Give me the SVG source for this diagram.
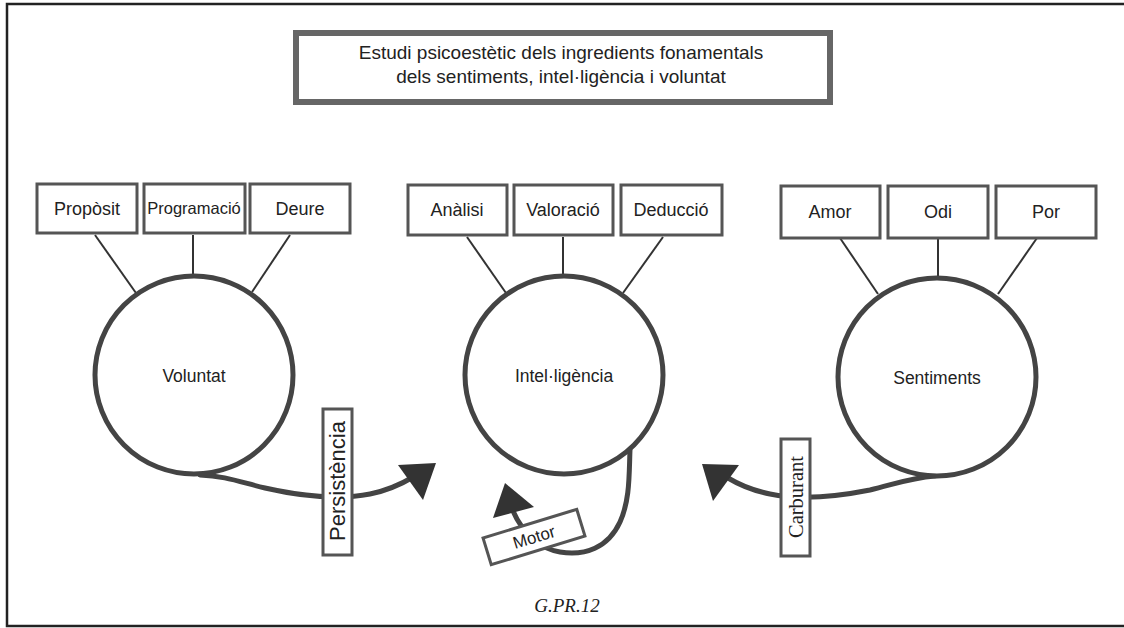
<svg xmlns="http://www.w3.org/2000/svg" width="1124" height="628" viewBox="0 0 1124 628">
<style>
.t{font-family:"Liberation Sans",Arial,sans-serif;fill:#222;text-anchor:middle}
.box{fill:#fff;stroke:#555;stroke-width:3}
.ln{stroke:#333;stroke-width:2;fill:none}
.circ{fill:#fff;stroke:#444;stroke-width:5}
.flow{fill:none;stroke:#444;stroke-width:5;stroke-linecap:round}
.head{fill:#333}
</style>
<rect x="0" y="0" width="1124" height="628" fill="#fff"/>
<rect x="7" y="4" width="1130" height="622" fill="none" stroke="#222" stroke-width="2.5"/>
<g id="title">
<rect x="296" y="33" width="534" height="69" fill="#fff" stroke="#666" stroke-width="6"/>
<text class="t" x="561" y="59" font-size="19">Estudi psicoestètic dels ingredients fonamentals</text>
<text class="t" x="561" y="83" font-size="19">dels sentiments, intel·ligència i voluntat</text>
</g>
<g id="connectors">
<line class="ln" x1="95" y1="235" x2="136" y2="293"/>
<line class="ln" x1="193" y1="235" x2="193" y2="274"/>
<line class="ln" x1="290" y1="235" x2="252" y2="292"/>
<line class="ln" x1="467" y1="237" x2="506" y2="293"/>
<line class="ln" x1="563" y1="237" x2="563" y2="275"/>
<line class="ln" x1="663" y1="237" x2="623" y2="293"/>
<line class="ln" x1="840" y1="238" x2="878" y2="294"/>
<line class="ln" x1="938" y1="238" x2="938" y2="277"/>
<line class="ln" x1="1037" y1="238" x2="998" y2="294"/>
<path class="flow" d="M 200 475 C 225 476 240 482 265 488 C 300 496 340 500 370 494 C 390 490 405 482 415 476"/>
<polygon class="head" points="398,465 436,463 423,500"/>
<path class="flow" d="M 935 476 C 910 478 895 484 870 490 C 835 497 800 500 770 494 C 750 490 738 484 728 478"/>
<polygon class="head" points="702,464 739,465 713,501"/>
<path class="flow" d="M 630 450 C 629 475 630 500 620 522 C 608 548 585 556 560 552 C 540 549 522 532 513 511"/>
<polygon class="head" points="493,518 505,483 534,507"/>
</g>
<g id="voluntat">
<circle class="circ" cx="194" cy="375" r="99"/>
<text class="t" x="194" y="382" font-size="17.5">Voluntat</text>
</g>
<g id="intelligencia">
<circle class="circ" cx="564" cy="375" r="99"/>
<text class="t" x="564" y="382" font-size="17.5">Intel·ligència</text>
</g>
<g id="sentiments">
<circle class="circ" cx="937" cy="377" r="99"/>
<text class="t" x="937" y="384" font-size="17.5">Sentiments</text>
</g>
<g id="proposit"><rect class="box" x="37" y="184" width="100" height="49"/><text class="t" x="87" y="215" font-size="18">Propòsit</text></g>
<g id="programacio"><rect class="box" x="144" y="184" width="101" height="49"/><text class="t" x="194" y="214" font-size="16.5">Programació</text></g>
<g id="deure"><rect class="box" x="250" y="184" width="100" height="49"/><text class="t" x="300" y="215" font-size="18">Deure</text></g>
<g id="analisi"><rect class="box" x="408" y="185" width="99" height="50"/><text class="t" x="457" y="216" font-size="18">Anàlisi</text></g>
<g id="valoracio"><rect class="box" x="514" y="185" width="99" height="50"/><text class="t" x="563" y="216" font-size="18">Valoració</text></g>
<g id="deduccio"><rect class="box" x="621" y="185" width="101" height="50"/><text class="t" x="671" y="216" font-size="18">Deducció</text></g>
<g id="amor"><rect class="box" x="781" y="186" width="99" height="52"/><text class="t" x="830" y="218" font-size="18">Amor</text></g>
<g id="odi"><rect class="box" x="888" y="186" width="100" height="52"/><text class="t" x="938" y="218" font-size="18">Odi</text></g>
<g id="por"><rect class="box" x="996" y="186" width="100" height="52"/><text class="t" x="1046" y="218" font-size="18">Por</text></g>
<g id="persistencia">
<rect class="box" x="323" y="409" width="29" height="146" stroke-width="2.5"/>
<text class="t" transform="translate(345 481) rotate(-90)" font-size="22">Persistència</text>
</g>
<g id="carburant">
<rect class="box" x="781" y="439" width="29" height="117" stroke-width="2.5"/>
<text transform="translate(802.5 497) rotate(-90)" font-size="20.5" text-anchor="middle" font-family="Liberation Serif,Times New Roman,serif" fill="#222">Carburant</text>
</g>
<g id="motor" transform="translate(534 537) rotate(-17)">
<rect class="box" x="-49" y="-14" width="98" height="28" stroke-width="2.5"/>
<text class="t" x="0" y="6" font-size="17">Motor</text>
</g>
<text x="567" y="612" font-size="19" font-style="italic" text-anchor="middle" font-family="Liberation Serif,Times New Roman,serif" fill="#222">G.PR.12</text>
</svg>
